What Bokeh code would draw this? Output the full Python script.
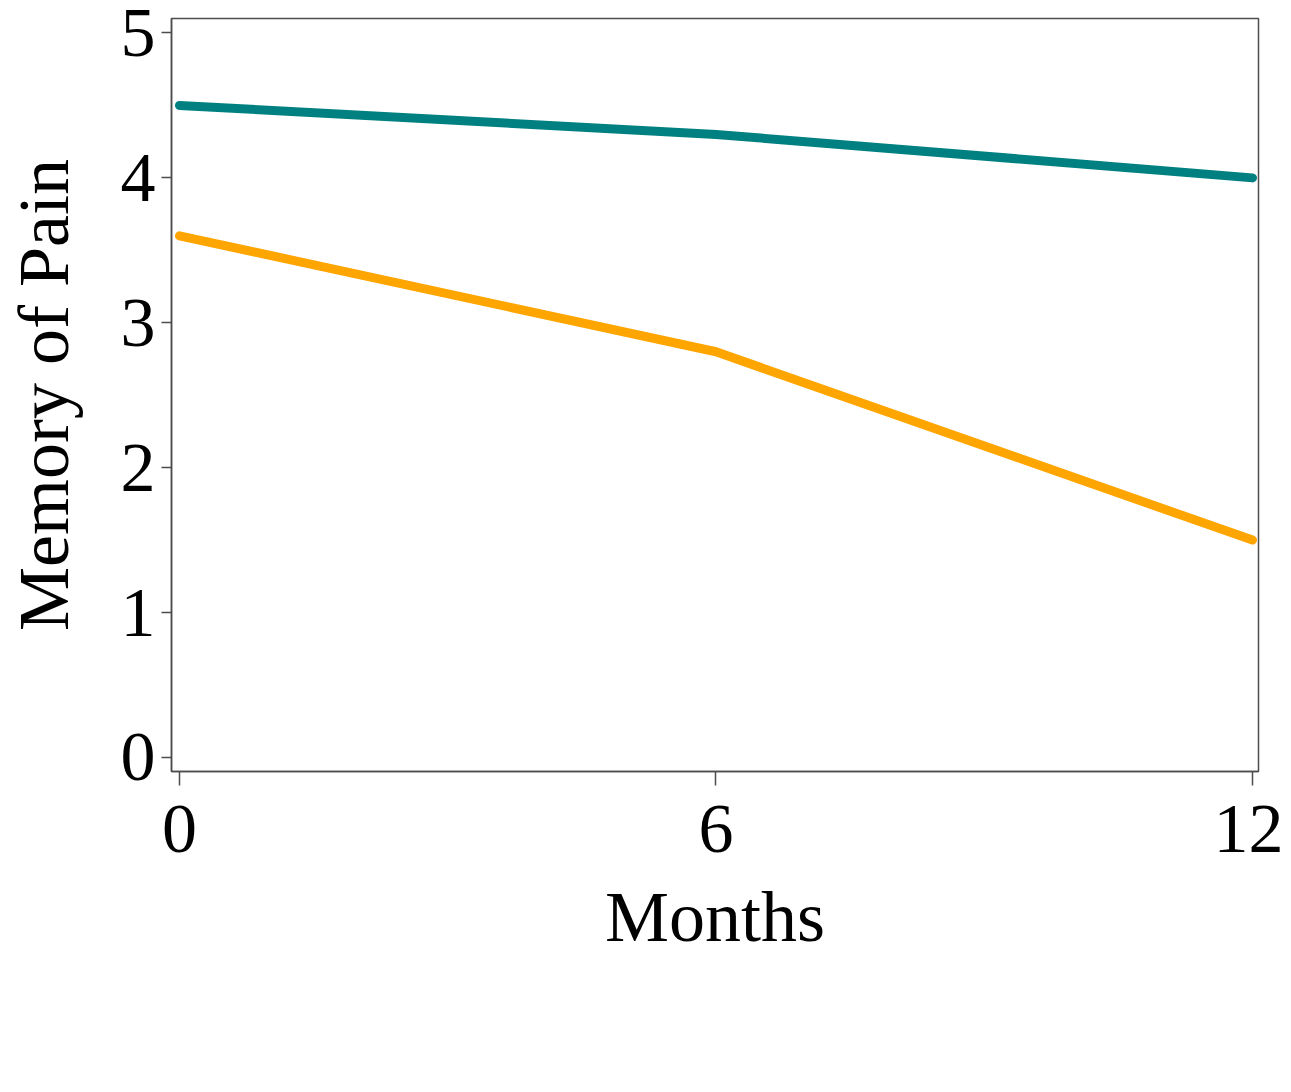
from bokeh.plotting import figure
from bokeh.models import FixedTicker, Legend, LegendItem, Range1d
from bokeh.embed import file_html
from bokeh.resources import INLINE

months = [0, 6, 12]
standard_of_care = [4.5, 4.3, 4.0]
sensory_focus = [3.6, 2.8, 1.5]
x_ticks = [0, 6, 12]
y_ticks = [0, 1, 2, 3, 4, 5]

FONT = "Liberation Serif"
FRAME_COL = "#4d4d4d"

p = figure(frame_width=1087, frame_height=753, output_backend="svg", toolbar_location=None,
           x_range=Range1d(-0.089, 12.067), y_range=Range1d(-0.097, 5.10),
           min_border_left=150, min_border_right=25, min_border_top=18, min_border_bottom=300)
p.background_fill_color = "white"
p.border_fill_color = "white"
p.outline_line_color = FRAME_COL
p.outline_line_width = 1.5
p.grid.visible = False

r1 = p.line(months, standard_of_care, line_color="#008080", line_width=9, line_cap="round")
r2 = p.line(months, sensory_focus, line_color="#FFA500", line_width=9, line_cap="round")

for ax in (p.xaxis[0], p.yaxis[0]):
    ax.axis_line_color = FRAME_COL
    ax.axis_line_width = 1.5
    ax.major_tick_line_color = FRAME_COL
    ax.major_tick_line_width = 1.5
    ax.major_tick_in = 0
    ax.minor_tick_line_color = None
    ax.major_label_text_font = FONT
    ax.major_label_text_font_size = "70px"
    ax.major_label_text_color = "black"
    ax.axis_label_text_font = FONT
    ax.axis_label_text_font_size = "72px"
    ax.axis_label_text_font_style = "normal"
    ax.axis_label_text_color = "black"

p.xaxis.ticker = FixedTicker(ticks=x_ticks)
p.yaxis.ticker = FixedTicker(ticks=y_ticks)
p.xaxis.major_tick_out = 14
p.yaxis.major_tick_out = 10
p.xaxis.major_label_standoff = 20
p.yaxis.major_label_standoff = 6
p.xaxis.axis_label = "Months"
p.yaxis.axis_label = "Memory of Pain"
p.xaxis.axis_label_standoff = 22
p.yaxis.axis_label_standoff = 34

legend = Legend(items=[LegendItem(label="Standard of Care", renderers=[r1]),
                       LegendItem(label="Sensory Focus", renderers=[r2])],
                orientation="horizontal", location="bottom_left",
                label_text_font=FONT, label_text_font_size="60px",
                glyph_width=74, glyph_height=30, spacing=60, label_standoff=17,
                border_line_color=None, background_fill_alpha=0, margin=0, padding=0)
p.add_layout(legend, "below")

open("out.html", "w").write(file_html(p, INLINE))
